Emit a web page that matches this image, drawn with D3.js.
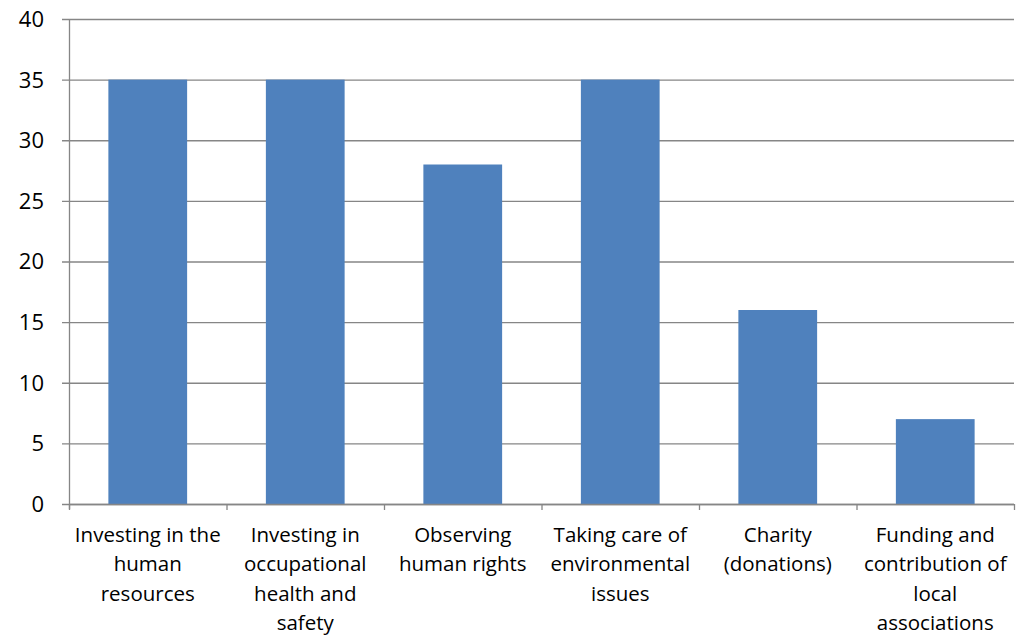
<!DOCTYPE html>
<html><head><meta charset="utf-8">
<script src="https://cdn.jsdelivr.net/npm/d3@7"></script>
<style>body{margin:0;background:#fff}svg{display:block}text{font-family:"Open Sans",sans-serif;fill:#000}</style>
</head><body>
<svg id="c" width="1028" height="636"></svg>
<script>
const categories = [
  ["Investing in the","human","resources"],
  ["Investing in","occupational","health and","safety"],
  ["Observing","human rights"],
  ["Taking care of","environmental","issues"],
  ["Charity","(donations)"],
  ["Funding and","contribution of","local","associations"]
];
const values = [35, 35, 28, 35, 16, 7];
const yTicks = [0,5,10,15,20,25,30,35,40];

const svg = d3.select("#c");
const m = {left:69, right:1014, top:19, bottom:504};
const x = d3.scaleBand().domain(d3.range(categories.length)).range([m.left, m.right]).paddingInner(0.5).paddingOuter(0.25);
const y = d3.scaleLinear().domain([0,40]).range([m.bottom, m.top]);

// gridlines
svg.append("g").selectAll("line").data(yTicks).join("line")
  .attr("x1", m.left-7).attr("x2", m.right)
  .attr("y1", d=>y(d)+0.5).attr("y2", d=>y(d)+0.5)
  .attr("stroke","#868686").attr("stroke-width",1.3);

// bars
svg.append("g").selectAll("rect").data(values).join("rect")
  .attr("x",(d,i)=>x(i)).attr("width",x.bandwidth())
  .attr("y",d=>y(d)).attr("height",d=>y(0)-y(d))
  .attr("fill","#4F81BD");

// y axis line
svg.append("line").attr("x1",m.left+0.5).attr("x2",m.left+0.5).attr("y1",m.top).attr("y2",m.bottom+5)
  .attr("stroke","#868686").attr("stroke-width",1.3);
// x axis
svg.append("line").attr("x1",m.left).attr("x2",m.right).attr("y1",m.bottom+0.5).attr("y2",m.bottom+0.5)
  .attr("stroke","#868686").attr("stroke-width",1.3);
const step = (m.right-m.left)/categories.length;
svg.append("g").selectAll("line").data(d3.range(categories.length+1)).join("line")
  .attr("x1",d=>m.left+d*step+0.5).attr("x2",d=>m.left+d*step+0.5)
  .attr("y1",m.bottom).attr("y2",m.bottom+6)
  .attr("stroke","#868686").attr("stroke-width",1.3);

// y labels
svg.append("g").selectAll("text").data(yTicks).join("text")
  .attr("x",44).attr("y",d=>y(d)).attr("dy","0.36em").attr("text-anchor","end")
  .attr("font-size",22).text(d=>d);

// x labels
const lg = svg.append("g").selectAll("g").data(categories).join("g")
  .attr("transform",(d,i)=>`translate(${x(i)+x.bandwidth()/2},0)`);
lg.selectAll("text").data(d=>d).join("text")
  .attr("text-anchor","middle").attr("font-size",20.5)
  .attr("y",(d,j)=>542+j*29.3).text(d=>d);
</script>
</body></html>
